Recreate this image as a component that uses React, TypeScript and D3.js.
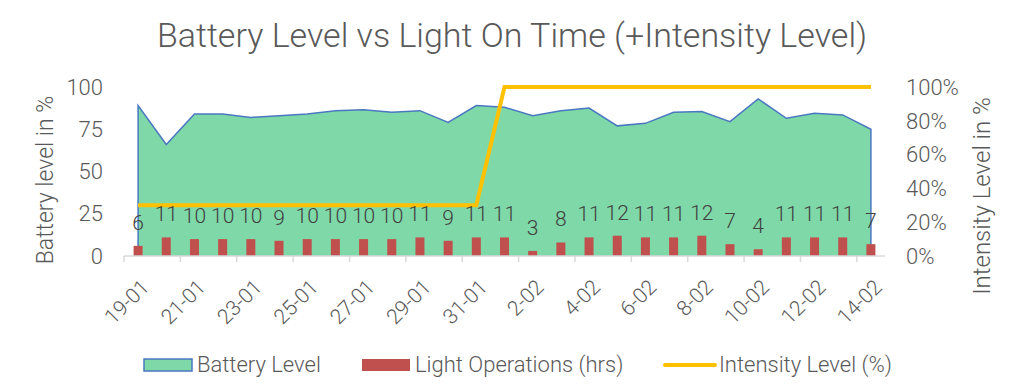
import React, { useEffect, useRef } from 'react';
import * as d3 from 'd3';

const dates = [
  '19-01', '20-01', '21-01', '22-01', '23-01', '24-01', '25-01', '26-01', '27-01',
  '28-01', '29-01', '30-01', '31-01', '1-02', '2-02', '3-02', '4-02', '5-02',
  '6-02', '7-02', '8-02', '9-02', '10-02', '11-02', '12-02', '13-02', '14-02',
];
const batteryLevel = [
  89, 66, 84, 84, 82, 83, 84, 86, 86.5, 85, 86, 79, 89,
  88, 83, 86, 87.5, 77, 78.5, 85, 85.5, 79.5, 93, 81.5, 84.5, 83.5, 75,
];
const lightHours = [
  6, 11, 10, 10, 10, 9, 10, 10, 10, 10, 11, 9, 11,
  11, 3, 8, 11, 12, 11, 11, 12, 7, 4, 11, 11, 11, 7,
];
const intensity = [
  0.3, 0.3, 0.3, 0.3, 0.3, 0.3, 0.3, 0.3, 0.3, 0.3, 0.3, 0.3, 0.3,
  1, 1, 1, 1, 1, 1, 1, 1, 1, 1, 1, 1, 1, 1,
];
const leftTicks = [0, 25, 50, 75, 100];
const rightTicks = [0, 0.2, 0.4, 0.6, 0.8, 1];

const GREEN = '#7FD8A7';
const BLUE = '#4A78C0';
const RED = '#C0504D';
const YELLOW = '#FFC000';
const TEXT = '#595959';
const FONT = 'Roboto, sans-serif';

const App = () => {
  const ref = useRef<SVGSVGElement>(null);

  useEffect(() => {
    if (!ref.current) return;
    const svg = d3.select(ref.current);
    svg.selectAll('*').remove();

    const x = d3.scaleBand<string>().domain(dates).range([124, 885]).padding(0);
    const cx = (d: string) => (x(d) as number) + x.bandwidth() / 2;
    const y = d3.scaleLinear().domain([0, 100]).range([256, 87]);
    const y2 = d3.scaleLinear().domain([0, 1]).range([256, 87]);

    // title
    svg.append('text')
      .attr('x', 512).attr('y', 47)
      .attr('text-anchor', 'middle')
      .attr('font-family', FONT).attr('font-weight', 300)
      .attr('font-size', 34).attr('fill', TEXT)
      .text('Battery Level vs Light On Time (+Intensity Level)');

    // battery area
    const area = d3.area<number>()
      .x((_, i) => cx(dates[i]))
      .y0(y(0))
      .y1(d => y(d));
    svg.append('path')
      .datum(batteryLevel)
      .attr('fill', GREEN)
      .attr('d', area);
    const outline = d3.line<[number, number]>();
    const pts: [number, number][] = [
      [cx(dates[0]), y(0)],
      ...batteryLevel.map((d, i) => [cx(dates[i]), y(d)] as [number, number]),
      [cx(dates[dates.length - 1]), y(0)],
    ];
    svg.append('path')
      .attr('d', outline(pts))
      .attr('fill', 'none')
      .attr('stroke', BLUE)
      .attr('stroke-width', 1.5);

    // bars
    const barW = 9;
    svg.selectAll('.bar')
      .data(lightHours)
      .enter().append('rect')
      .attr('x', (_, i) => cx(dates[i]) - barW / 2)
      .attr('y', d => y(d))
      .attr('width', barW)
      .attr('height', d => y(0) - y(d))
      .attr('fill', RED);

    // intensity line
    const line = d3.line<number>()
      .x((_, i) => cx(dates[i]))
      .y(d => y2(d));
    svg.append('path')
      .datum(intensity)
      .attr('fill', 'none')
      .attr('stroke', YELLOW)
      .attr('stroke-width', 4)
      .attr('d', line);

    // bar labels
    svg.selectAll('.lbl')
      .data(lightHours)
      .enter().append('text')
      .attr('x', (_, i) => cx(dates[i]))
      .attr('y', d => y(d) - 16)
      .attr('text-anchor', 'middle')
      .attr('font-family', FONT).attr('font-weight', 300)
      .attr('font-size', 21).attr('fill', '#404040')
      .text(d => d);

    // x axis
    svg.append('line')
      .attr('x1', 124).attr('x2', 885)
      .attr('y1', y(0)).attr('y2', y(0))
      .attr('stroke', '#D9D9D9').attr('stroke-width', 1.5);
    const tickDates = dates.filter((_, i) => i % 2 === 0);
    svg.selectAll('.xtick')
      .data(tickDates)
      .enter().append('line')
      .attr('x1', d => x(d) as number).attr('x2', d => x(d) as number)
      .attr('y1', y(0)).attr('y2', y(0) + 6)
      .attr('stroke', '#D9D9D9').attr('stroke-width', 1.5);
    svg.selectAll('.xlbl')
      .data(tickDates)
      .enter().append('text')
      .attr('transform', d => `translate(${cx(d) + 2},${y(0) + 22}) rotate(-45)`)
      .attr('text-anchor', 'end')
      .attr('dy', '0.7em')
      .attr('font-family', FONT).attr('font-weight', 300)
      .attr('font-size', 21).attr('fill', TEXT)
      .text(d => d);

    // left axis
    svg.selectAll('.ylbl')
      .data(leftTicks)
      .enter().append('text')
      .attr('x', 103).attr('y', d => y(d))
      .attr('dy', '0.35em')
      .attr('text-anchor', 'end')
      .attr('font-family', FONT).attr('font-weight', 300)
      .attr('font-size', 22).attr('fill', TEXT)
      .text(d => d);
    svg.append('text')
      .attr('transform', 'translate(53,180) rotate(-90)')
      .attr('text-anchor', 'middle')
      .attr('font-family', FONT).attr('font-weight', 300)
      .attr('font-size', 23).attr('fill', TEXT)
      .text('Battery level in %');

    // right axis
    svg.selectAll('.y2lbl')
      .data(rightTicks)
      .enter().append('text')
      .attr('x', 906).attr('y', d => y2(d))
      .attr('dy', '0.35em')
      .attr('text-anchor', 'start')
      .attr('font-family', FONT).attr('font-weight', 300)
      .attr('font-size', 22).attr('fill', TEXT)
      .text(d3.format('.0%'));
    svg.append('text')
      .attr('transform', 'translate(990,196) rotate(-90)')
      .attr('text-anchor', 'middle')
      .attr('font-family', FONT).attr('font-weight', 300)
      .attr('font-size', 24).attr('fill', TEXT)
      .text('Intensity Level in %');

    // legend
    const lg = svg.append('g').attr('font-family', FONT).attr('font-weight', 300)
      .attr('font-size', 22).attr('fill', TEXT);
    lg.append('rect').attr('x', 144).attr('y', 359).attr('width', 48).attr('height', 12)
      .attr('fill', GREEN).attr('stroke', BLUE).attr('stroke-width', 1.5);
    lg.append('text').attr('x', 197).attr('y', 372).text('Battery Level');
    lg.append('rect').attr('x', 362).attr('y', 359).attr('width', 48).attr('height', 12)
      .attr('fill', RED);
    lg.append('text').attr('x', 415).attr('y', 372).text('Light Operations (hrs)');
    lg.append('line').attr('x1', 665).attr('x2', 715).attr('y1', 365).attr('y2', 365)
      .attr('stroke', YELLOW).attr('stroke-width', 4).attr('stroke-linecap', 'round');
    lg.append('text').attr('x', 719).attr('y', 372).text('Intensity Level (%)');
  }, []);

  return (
    <svg ref={ref} width={1024} height={392}
      style={{ position: 'absolute', left: 0, top: 0, background: '#fff' }} />
  );
};

export default App;
